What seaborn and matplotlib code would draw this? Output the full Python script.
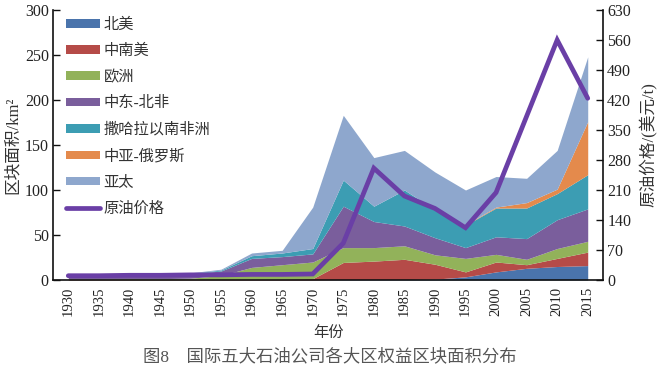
import matplotlib
matplotlib.use("Agg")
import matplotlib.pyplot as plt
from matplotlib.patches import Patch
from matplotlib.lines import Line2D
import seaborn as sns
import pandas as pd
import numpy as np

years = ["1930", "1935", "1940", "1945", "1950", "1955", "1960", "1965", "1970",
         "1975", "1980", "1985", "1990", "1995", "2000", "2005", "2010", "2015"]
north_america = [0, 0, 0, 0, 0, 0, 0, 0, 0, 0.5, 0.5, 0.5, 1, 3.5, 9, 13, 15, 16]
latin_america = [0.5, 0.5, 0.5, 0.5, 0.5, 0.5, 1, 1, 1.5, 19, 20.5, 22.5, 16.5, 5.5, 11, 4, 9, 15]
europe = [0.5, 0.5, 1, 1, 1.5, 4.5, 13, 16, 18.5, 16.5, 15, 15, 10.5, 15, 8.5, 6, 11, 12]
mena = [3, 4, 4.5, 4.5, 5, 5, 10, 9, 9, 46, 29, 22, 19, 12, 19.5, 23, 32, 36]
subsaharan = [0, 0, 0, 0, 0.5, 1, 3, 4, 6, 29, 17, 40, 31, 25, 32, 34, 29, 38]
central_asia_russia = [0, 0, 0, 0, 0, 0, 0, 0, 0, 0, 0, 0, 0, 0.5, 1, 6, 5, 59]
asia_pacific = [0.5, 0.5, 0.5, 1, 0.5, 1, 3, 3, 46, 72, 54, 44, 42, 38.5, 34, 27, 43, 72]
oil_price = [10, 10, 11, 11, 12, 12, 13, 13, 14, 86, 261, 196, 167, 122, 204, 382, 560, 424]

series_names = ["北美", "中南美", "欧洲", "中东-北非", "撒哈拉以南非洲", "中亚-俄罗斯", "亚太"]
series_vals = [north_america, latin_america, europe, mena, subsaharan,
               central_asia_russia, asia_pacific]
colors = ["#4A74AC", "#B54B48", "#92B25A", "#7A5E9C", "#3C9DB3", "#E48A4C", "#8EA7CD"]
line_color = "#6A3FA6"
line_name = "原油价格"

sns.set_theme(style="white")
plt.rcParams['font.family'] = ['Liberation Serif', 'Noto Sans CJK SC', 'DejaVu Sans']
plt.rcParams['axes.unicode_minus'] = False

fig = plt.figure(figsize=(6.6, 3.8), dpi=100)
ax = fig.add_axes([53 / 660, 1 - 280 / 380, 550 / 660, 270 / 380])

x = np.arange(len(years))
ax.stackplot(x, *series_vals, colors=colors, linewidth=0)
ax.set_xlim(-0.5, len(years) - 0.5)
ax.set_ylim(0, 300)
ax.set_yticks(np.arange(0, 301, 50))

ax2 = ax.twinx()
df = pd.DataFrame({"x": x, "price": oil_price})
sns.lineplot(data=df, x="x", y="price", ax=ax2, color=line_color, linewidth=3.4,
             solid_joinstyle="miter")
ax2.set_ylim(0, 630)
ax2.set_yticks(np.arange(0, 631, 70))
ax2.set_xlim(-0.5, len(years) - 0.5)
ax2.set_xlabel("")

ax.set_xticks(x)
ax.set_xticklabels(years, rotation=90, fontsize=10.5, color="#222222")
ax.set_xticks(np.arange(0.5, len(years) - 0.5, 1), minor=True)
ax.tick_params(axis="x", which="major", length=0, pad=5)
ax.tick_params(axis="x", which="minor", direction="in", length=4, width=1.2, color="#111111")
ax.tick_params(axis="y", which="major", direction="in", length=5, width=1, color="#111111",
               labelsize=11.5, labelcolor="#222222", pad=3)
ax2.tick_params(axis="y", which="major", direction="in", length=5, width=1, color="#111111",
                labelsize=11.5, labelcolor="#222222", pad=3)
ax2.tick_params(axis="x", length=0)

for a in (ax, ax2):
    a.spines["top"].set_visible(False)
    for s in ("left", "right", "bottom"):
        a.spines[s].set_color("#111111")
        a.spines[s].set_linewidth(1.2)
ax.spines["right"].set_visible(False)
ax2.spines["left"].set_visible(False)
ax2.spines["bottom"].set_visible(False)

ax.set_ylabel("区块面积/km²", fontsize=12, color="#333333", labelpad=3)
ax2.set_ylabel("原油价格/(美元/t)", fontsize=12, color="#333333", labelpad=6)
ax.set_xlabel("年份", fontsize=11, color="#333333", labelpad=7)

handles = [Patch(facecolor=c, edgecolor="none") for c in colors]
handles.append(Line2D([0], [0], color=line_color, linewidth=3.4))
leg = ax2.legend(handles, series_names + [line_name], loc="upper left",
                 bbox_to_anchor=(0.01, 1.0), frameon=False, fontsize=11,
                 handlelength=2.2, handleheight=0.5, labelspacing=0.78,
                 handletextpad=0.25, borderaxespad=0.1)
for t in leg.get_texts():
    t.set_color("#333333")

fig.text(0.5, 1 - 357 / 380, "图8    国际五大石油公司各大区权益区块面积分布",
         ha="center", va="center", fontsize=12.5, color="#555555")

fig.savefig("out.png", dpi=100)
